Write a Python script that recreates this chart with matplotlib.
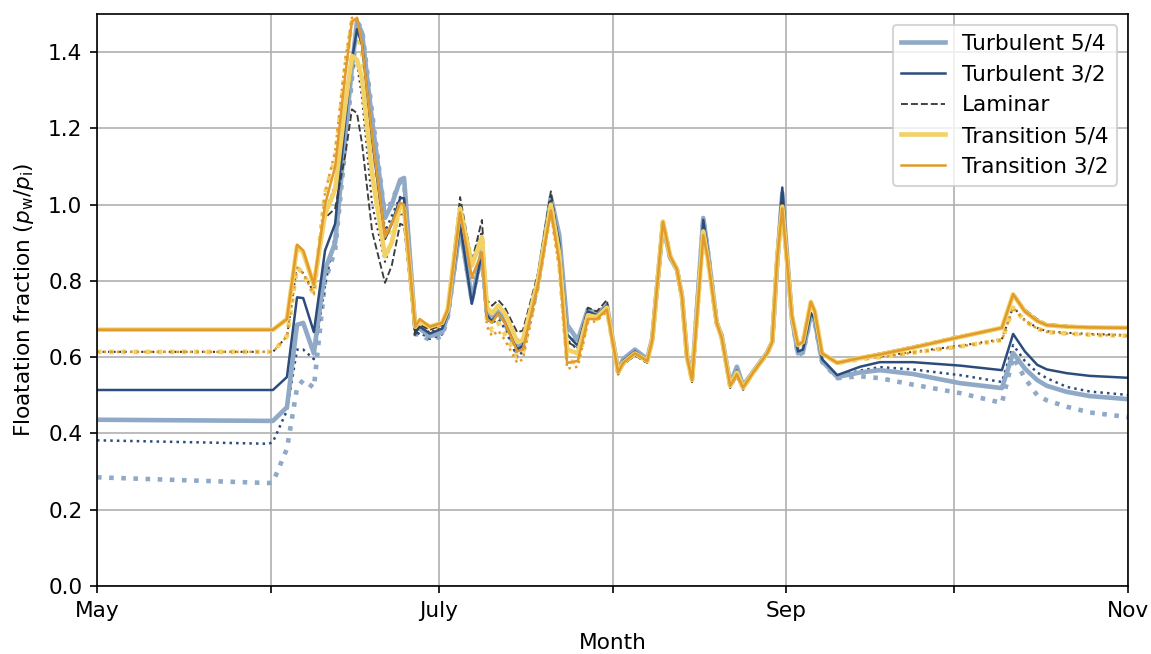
import numpy as np
import matplotlib
matplotlib.use("Agg")
import matplotlib.pyplot as plt

plt.rcParams["font.size"] = 10.4

# days since 1 May
days = [0.0, 30.7, 31.4, 33.9, 35.7, 36.8, 38.7, 40.7, 42.5, 44.3,
        45.5, 46.4, 47.3, 49.1, 51.4, 52.6, 54.1, 54.8, 56.8, 57.6,
        59.4, 61.6, 62.6, 64.8, 66.9, 68.7, 69.6, 70.5, 71.6, 72.8,
        75.0, 76.0, 78.7, 81.0, 82.5, 83.9, 85.8, 87.6, 89.2, 91.0,
        93.0, 93.9, 96.0, 98.2, 99.1, 101.0, 102.3, 103.5, 104.4, 105.3,
        106.2, 108.2, 109.0, 110.6, 111.5, 113.0, 114.2, 115.3, 117.1, 119.6,
        120.5, 121.4, 122.3, 124.0, 125.1, 126.0, 127.4, 128.1, 129.4, 132.1,
        136.2, 139.7, 145.6, 154.0, 161.5, 163.5, 165.6, 167.8, 169.5, 173.1,
        177.2, 184.0]

# solid / dashed runs
turb_54 = [.436, .433, .433, .469, .685, .690, .610, .830, .900, 1.180,
           1.360, 1.480, 1.450, 1.220, .965, 1.000, 1.065, 1.070, .675, .675,
           .655, .665, .710, .940, .750, .880, .720, .710, .725, .700,
           .625, .635, .800, 1.020, .920, .685, .645, .725, .715, .735,
           .565, .595, .620, .595, .650, .950, .860, .830, .760, .605,
           .545, .965, .880, .690, .655, .530, .575, .525, .562, .612,
           .640, .850, 1.030, .705, .610, .615, .710, .695, .590, .548,
           .560, .566, .556, .532, .519, .611, .570, .540, .525, .509,
           .498, .490]
turb_32 = [.514, .514, .514, .548, .757, .755, .666, .880, .950, 1.220,
           1.380, 1.460, 1.420, 1.170, .910, .950, 1.017, 1.017, .665, .680,
           .662, .675, .715, .950, .740, .875, .710, .695, .715, .690,
           .620, .630, .800, 1.010, .900, .660, .630, .720, .710, .735,
           .560, .590, .615, .590, .645, .950, .860, .830, .760, .600,
           .540, .960, .880, .690, .650, .525, .565, .520, .558, .611,
           .640, .860, 1.045, .710, .615, .620, .716, .700, .595, .553,
           .575, .587, .587, .578, .566, .661, .615, .580, .568, .558,
           .551, .546]
laminar = [.672, .672, .672, .700, .895, .880, .785, .965, .990, 1.130,
           1.250, 1.240, 1.160, .930, .795, .840, .950, .945, .660, .685,
           .672, .685, .730, 1.020, .850, .960, .750, .735, .750, .730,
           .665, .670, .820, 1.035, .890, .640, .625, .730, .720, .750,
           .555, .580, .605, .585, .645, .960, .870, .835, .760, .595,
           .535, .915, .860, .690, .650, .520, .550, .515, .560, .610,
           .640, .860, 1.005, .715, .632, .640, .745, .720, .612, .587,
           .600, .610, .628, .656, .677, .768, .725, .700, .687, .683,
           .680, .677]
trans_54 = [.672, .672, .672, .700, .890, .875, .790, .975, 1.040, 1.260,
            1.390, 1.380, 1.330, 1.080, .865, .900, 1.000, .990, .680, .695,
            .680, .690, .725, .990, .840, .915, .730, .715, .735, .715,
            .640, .645, .800, 1.000, .870, .620, .610, .710, .705, .730,
            .560, .585, .610, .590, .645, .955, .865, .830, .760, .600,
            .540, .930, .860, .690, .650, .525, .560, .520, .560, .610,
            .640, .860, .995, .710, .632, .640, .745, .720, .610, .585,
            .598, .607, .625, .653, .677, .765, .720, .695, .684, .680,
            .678, .677]
trans_32 = [.672, .672, .672, .700, .895, .880, .790, 1.000, 1.100, 1.340,
            1.480, 1.490, 1.420, 1.180, .915, .950, 1.005, 1.000, .680, .700,
            .680, .690, .725, .980, .810, .875, .700, .690, .715, .690,
            .615, .620, .790, .985, .850, .585, .590, .700, .700, .725,
            .560, .585, .610, .590, .645, .955, .865, .830, .760, .600,
            .540, .920, .860, .690, .650, .525, .555, .520, .560, .610,
            .640, .860, .990, .710, .632, .640, .745, .720, .610, .585,
            .598, .607, .625, .653, .677, .765, .720, .695, .684, .680,
            .678, .677]

# dotted runs
turb_54_b = [.285, .270, .272, .360, .520, .540, .520, .800, .880, 1.150,
             1.330, 1.480, 1.460, 1.240, .970, 1.010, 1.060, 1.060, .660, .660,
             .645, .655, .705, .940, .750, .870, .710, .700, .715, .690,
             .610, .620, .790, 1.010, .900, .665, .635, .715, .710, .730,
             .560, .592, .618, .592, .648, .950, .860, .830, .760, .605,
             .545, .960, .880, .690, .655, .528, .570, .522, .560, .611,
             .640, .850, 1.020, .705, .605, .612, .705, .690, .588, .545,
             .550, .545, .528, .506, .480, .600, .545, .500, .487, .470,
             .455, .443]
turb_32_b = [.382, .373, .378, .460, .620, .620, .595, .790, .920, 1.200,
             1.360, 1.470, 1.450, 1.200, .930, .970, 1.020, 1.010, .655, .665,
             .648, .660, .710, .950, .740, .870, .700, .690, .700, .675,
             .600, .615, .790, 1.000, .880, .645, .620, .710, .705, .730,
             .555, .588, .612, .588, .645, .950, .860, .830, .760, .600,
             .540, .950, .870, .690, .650, .522, .560, .518, .558, .610,
             .640, .860, 1.030, .710, .610, .615, .710, .695, .593, .550,
             .565, .574, .568, .553, .535, .632, .590, .560, .545, .522,
             .510, .501]
laminar_b = [.614, .614, .614, .655, .840, .820, .770, .980, 1.050, 1.200,
             1.360, 1.370, 1.280, 1.000, .850, .900, .980, .970, .655, .680,
             .665, .680, .725, 1.000, .850, .930, .720, .710, .730, .710,
             .645, .650, .810, 1.020, .870, .620, .610, .720, .710, .740,
             .555, .580, .605, .585, .645, .955, .865, .830, .760, .595,
             .535, .915, .860, .690, .650, .520, .550, .515, .560, .610,
             .640, .860, .995, .712, .632, .640, .740, .720, .610, .585,
             .597, .602, .614, .630, .647, .732, .697, .677, .668, .664,
             .661, .658]
trans_54_b = [.614, .614, .614, .655, .835, .820, .765, 1.030, 1.120, 1.360,
              1.480, 1.470, 1.400, 1.150, .910, .940, 1.000, .990, .675, .690,
              .675, .685, .720, .980, .850, .900, .700, .670, .690, .660,
              .600, .610, .790, .990, .850, .590, .585, .700, .700, .725,
              .560, .585, .610, .590, .645, .955, .865, .830, .760, .600,
              .540, .920, .860, .690, .650, .525, .555, .520, .560, .610,
              .640, .860, .990, .710, .632, .640, .740, .720, .610, .585,
              .595, .600, .612, .628, .645, .730, .695, .675, .666, .662,
              .659, .656]
trans_32_b = [.614, .614, .614, .655, .835, .820, .765, 1.030, 1.140, 1.380,
              1.490, 1.490, 1.430, 1.200, .925, .950, 1.000, 1.000, .675, .690,
              .672, .685, .720, .970, .800, .870, .680, .655, .670, .645,
              .585, .595, .780, .980, .830, .570, .575, .690, .695, .720,
              .560, .585, .610, .590, .645, .955, .865, .830, .760, .600,
              .540, .920, .860, .690, .650, .525, .555, .520, .560, .610,
              .640, .860, .990, .710, .632, .640, .740, .720, .610, .585,
              .595, .600, .612, .628, .645, .730, .695, .675, .666, .662,
              .659, .656]

month_days = [0, 31, 61, 92, 123, 153, 184]
month_labels = ["May", "", "July", "", "Sep", "", "Nov"]

c_t54 = "#8fa9c6"
c_t32 = "#2c4d7c"
c_lam = "#3c3c3c"
c_tr54 = "#f2d264"
c_tr32 = "#e19a2b"

fig = plt.figure(figsize=(1151 / 150, 654 / 150), dpi=150)
ax = fig.add_axes([97 / 1151, 1 - 586 / 654, (1128 - 97) / 1151, (586 - 14) / 654])

# dotted variants
ax.plot(days, turb_54_b, color=c_t54, lw=2.2, ls=":")
ax.plot(days, turb_32_b, color=c_t32, lw=1.2, ls=":")
ax.plot(days, laminar_b, color=c_lam, lw=1, ls=":")
ax.plot(days, trans_54_b, color=c_tr54, lw=2.2, ls=":")
ax.plot(days, trans_32_b, color=c_tr32, lw=1.2, ls=":")

# main runs
ax.plot(days, turb_54, color=c_t54, lw=2.2, label="Turbulent 5/4")
ax.plot(days, turb_32, color=c_t32, lw=1.2, label="Turbulent 3/2")
ax.plot(days, laminar, color=c_lam, lw=0.9, ls="--", label="Laminar")
ax.plot(days, trans_54, color=c_tr54, lw=2.2, label="Transition 5/4")
ax.plot(days, trans_32, color=c_tr32, lw=1.2, label="Transition 3/2")

ax.set_xlim(0, 184)
ax.set_ylim(0, 1.5)
ax.set_xticks(month_days)
ax.set_xticklabels(month_labels)
ax.set_yticks(np.arange(0, 1.41, 0.2))
ax.grid(True)
ax.set_xlabel("Month", labelpad=6)
ax.set_ylabel(r"Floatation fraction ($p_\mathrm{w}/p_\mathrm{i}$)", labelpad=6)
ax.legend(loc="upper right")

fig.savefig("out.png", dpi=150)
